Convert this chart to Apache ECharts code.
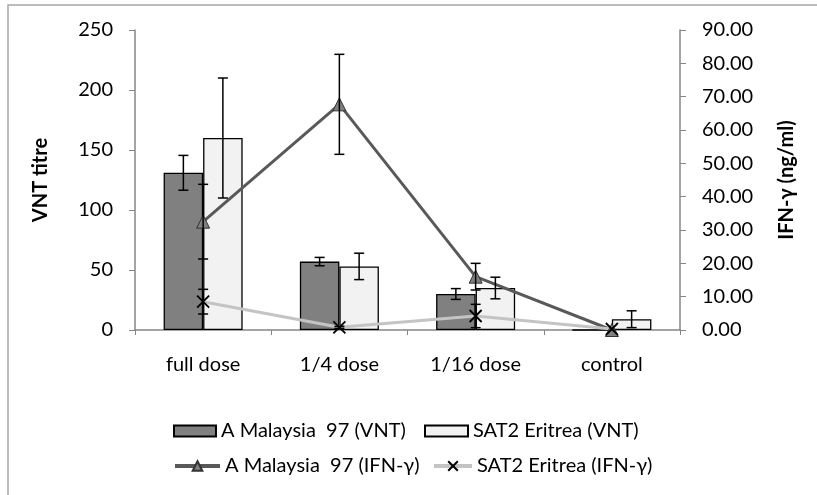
<!DOCTYPE html>
<html>
<head>
<meta charset="utf-8">
<script src="https://cdn.jsdelivr.net/npm/echarts@6/dist/echarts.min.js"></script>
<style>
html,body{margin:0;padding:0;background:#fff;}
#chart{width:817px;height:495px;}
</style>
</head>
<body>
<div id="chart"></div>
<script>
var categories = ['full dose', '1/4 dose', '1/16 dose', 'control'];
var vntMalaysia = [131, 57, 30, 0];
var vntMalaysiaErr = [14.5, 3.5, 4.5, 0];
var vntEritrea = [160, 53, 35, 9];
var vntEritreaErr = [50, 11, 9, 7];
var ifnMalaysia = [32.5, 67.7, 16, 0];
var ifnMalaysiaErr = [11.2, 15, 4, 0];
var ifnEritrea = [8.5, 0.8, 4.2, 0.3];
var ifnEritreaErr = [3.7, 0.3, 3.5, 0];
var leftTicks = [0, 50, 100, 150, 200, 250];
var rightTicks = [0, 10, 20, 30, 40, 50, 60, 70, 80, 90];

var FONT = 'Lato';
var GAP = 0.42;
var chart = echarts.init(document.getElementById('chart'), null, {renderer: 'canvas'});

function errData(vals, errs) {
  return vals.map(function (v, i) { return [i, v, errs[i]]; });
}
function makeErr(offsetSign) {
  return function (params, api) {
    var i = api.value(0), v = api.value(1), e = api.value(2);
    if (!e) return null;
    var band = api.size([1, 0])[0];
    var bw = band * (1 - GAP) / 2;
    var c = api.coord([i, v]);
    var x = c[0] + offsetSign * bw / 2;
    var top = api.coord([i, v + e])[1];
    var bot = api.coord([i, Math.max(v - e, 0)])[1];
    var st = {stroke: '#000', lineWidth: 1.5};
    return {type: 'group', children: [
      {type: 'line', shape: {x1: x, y1: top, x2: x, y2: bot}, style: st},
      {type: 'line', shape: {x1: x - 5, y1: top, x2: x + 5, y2: top}, style: st},
      {type: 'line', shape: {x1: x - 5, y1: bot, x2: x + 5, y2: bot}, style: st}
    ]};
  };
}
var tickLen = 6;
var axisColor = '#868686';
var FS = 20;
var labelStyle = {color: '#000', fontFamily: FONT, fontSize: FS};
var xSym = 'path://M0,0L10,10M10,0L0,10';

var option = {
  animation: false,
  backgroundColor: '#fff',
  textStyle: {fontFamily: FONT},
  graphic: [{
    type: 'rect', shape: {x: 8, y: 5, width: 900, height: 600},
    style: {fill: 'none', stroke: '#a6a6a6', lineWidth: 1.5}, silent: true, z: -10
  }],
  grid: {left: 135, right: 137, top: 30, bottom: 165},
  legend: [
    {data: ['A Malaysia  97 (VNT)'], left: 173, top: 421, padding: 0, itemWidth: 42, itemHeight: 11,
     textStyle: labelStyle, icon: 'rect'},
    {data: ['SAT2 Eritrea (VNT)'], left: 424, top: 421, padding: 0, itemWidth: 43, itemHeight: 11,
     textStyle: labelStyle, icon: 'rect'},
    {data: ['A Malaysia  97 (IFN-\u03b3)'], left: 173, top: 456, padding: 0, itemWidth: 45, itemHeight: 12,
     textStyle: labelStyle, lineStyle: {width: 4}},
    {data: ['SAT2 Eritrea (IFN-\u03b3)'], left: 432, top: 456, padding: 0, itemWidth: 38, itemHeight: 12,
     textStyle: labelStyle, lineStyle: {width: 4}}
  ],
  xAxis: {
    type: 'category', data: categories, boundaryGap: true,
    axisLine: {lineStyle: {color: axisColor, width: 1.5}},
    axisTick: {show: true, length: 5, lineStyle: {color: axisColor}},
    axisLabel: Object.assign({margin: 25}, labelStyle)
  },
  yAxis: [{
    type: 'value', min: 0, max: 250, interval: 50,
    name: 'VNT titre', nameLocation: 'middle', nameRotate: 90, nameGap: 84,
    nameTextStyle: {color: '#000', fontFamily: FONT, fontSize: 20, fontWeight: 'bold'},
    axisLine: {show: true, lineStyle: {color: axisColor, width: 1.5}},
    axisTick: {show: true, length: tickLen, lineStyle: {color: axisColor}},
    splitLine: {show: false},
    axisLabel: Object.assign({margin: 22}, labelStyle)
  }, {
    type: 'value', min: 0, max: 90, interval: 10, position: 'right',
    name: 'IFN-\u03b3 (ng/ml)', nameLocation: 'middle', nameRotate: 90, nameGap: 97,
    nameTextStyle: {color: '#000', fontFamily: FONT, fontSize: 20, fontWeight: 'bold'},
    axisLine: {show: true, lineStyle: {color: axisColor, width: 1.5}},
    axisTick: {show: true, length: tickLen, lineStyle: {color: axisColor}},
    splitLine: {show: false},
    axisLabel: Object.assign({margin: 22, formatter: function (v) { return v.toFixed(2); }}, labelStyle)
  }],
  series: [
    {name: 'A Malaysia  97 (VNT)', type: 'bar', data: vntMalaysia, barGap: '0%', barCategoryGap: (GAP * 100) + '%',
     itemStyle: {color: '#808080', borderColor: '#000', borderWidth: 1.3}, z: 2},
    {name: 'SAT2 Eritrea (VNT)', type: 'bar', data: vntEritrea, barGap: '0%', barCategoryGap: (GAP * 100) + '%',
     itemStyle: {color: '#f2f2f2', borderColor: '#000', borderWidth: 1.3}, z: 2},
    {name: 'A Malaysia  97 (IFN-\u03b3)', type: 'line', yAxisIndex: 1, data: ifnMalaysia,
     symbol: 'triangle', symbolSize: 13, z: 4,
     lineStyle: {color: '#595959', width: 3},
     itemStyle: {color: '#808080', borderColor: '#333', borderWidth: 1}},
    {name: 'SAT2 Eritrea (IFN-\u03b3)', type: 'line', yAxisIndex: 1, data: ifnEritrea,
     symbol: xSym, symbolSize: 12, z: 4,
     lineStyle: {color: '#c4c4c4', width: 3},
     itemStyle: {color: '#000', borderColor: '#000', borderWidth: 1.8}},
    {type: 'custom', data: errData(vntMalaysia, vntMalaysiaErr), renderItem: makeErr(-1), z: 5, silent: true},
    {type: 'custom', data: errData(vntEritrea, vntEritreaErr), renderItem: makeErr(1), z: 5, silent: true},
    {type: 'custom', yAxisIndex: 1, data: errData(ifnMalaysia, ifnMalaysiaErr), renderItem: makeErr(0), z: 5, silent: true},
    {type: 'custom', yAxisIndex: 1, data: errData(ifnEritrea, ifnEritreaErr), renderItem: makeErr(0), z: 5, silent: true}
  ]
};
chart.setOption(option);
</script>
</body>
</html>
